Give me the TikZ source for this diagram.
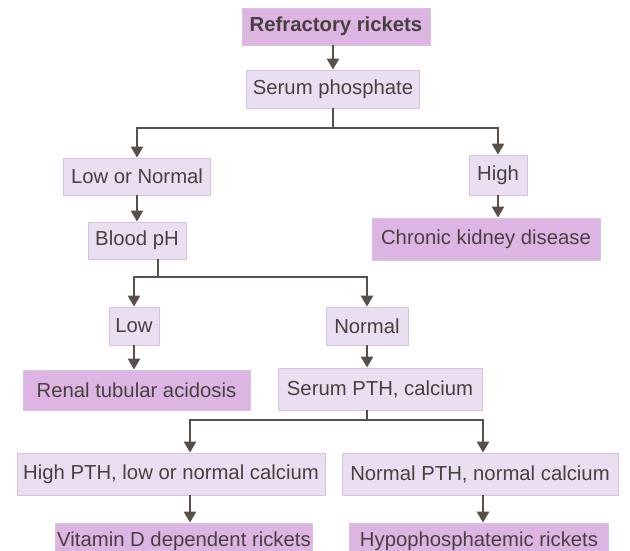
\documentclass[tikz,border=0pt]{standalone}
\usepackage{fontspec}
\setmainfont{Liberation Sans}
\usetikzlibrary{arrows.meta,calc}
\definecolor{term}{RGB}{221,181,226}
\definecolor{mid}{RGB}{233,223,241}
\definecolor{edgec}{RGB}{88,78,74}
\definecolor{txt}{RGB}{72,64,64}
\definecolor{bord}{RGB}{214,196,222}
\begin{document}
\begin{tikzpicture}[x=1pt,y=-1pt,
  box/.style={rectangle, inner sep=0pt, font=\fontsize{20.3}{24}\selectfont, text=txt, draw=bord, line width=0.8pt},
  termbox/.style={box, fill=term},
  midbox/.style={box, fill=mid},
  conn/.style={draw=edgec, line width=2.4pt},
  arr/.style={conn, -{Triangle[width=12pt,length=11pt]}}]
\useasboundingbox (0,0) rectangle (630,550);
\clip (0,0) rectangle (630,550);

\node[termbox, font=\bfseries\fontsize{20.3}{24}\selectfont, minimum width=188pt, minimum height=37pt] (ref) at (336,26.5) {Refractory rickets};
\node[midbox, minimum width=173pt, minimum height=38pt] (sp) at (333,89) {Serum phosphate};
\node[midbox, minimum width=147pt, minimum height=37pt] (lon) at (137,176.5) {Low or Normal};
\node[midbox, minimum width=58pt, minimum height=40pt] (high) at (498,175) {High};
\node[midbox, minimum width=98pt, minimum height=37pt] (bph) at (137,240.5) {Blood pH};
\node[termbox, minimum width=228pt, minimum height=42pt] (ckd) at (486,239) {Chronic kidney disease};
\node[midbox, minimum width=50pt, minimum height=38pt] (low) at (134,326) {Low};
\node[midbox, minimum width=82pt, minimum height=38pt] (nor) at (367,326) {Normal};
\node[termbox, minimum width=227pt, minimum height=40pt] (rta) at (136.5,390) {Renal tubular acidosis};
\node[midbox, minimum width=204pt, minimum height=42pt] (pth) at (380,389) {Serum PTH, calcium};
\node[midbox, minimum width=308pt, minimum height=42pt] (hpth) at (171,474) {High PTH, low or normal calcium};
\node[midbox, minimum width=276pt, minimum height=42pt] (npth) at (480,474) {Normal PTH, normal calcium};
\node[termbox, minimum width=257pt, minimum height=36pt] (vit) at (184,541) {Vitamin D dependent rickets};
\node[termbox, minimum width=259pt, minimum height=36pt] (hypo) at (479,541) {Hypophosphatemic rickets};

% junctions and arrow columns
\coordinate (j1) at (333,128);
\coordinate (j2) at (158,277);
\coordinate (j3) at (367,420);
\coordinate (cl) at (190,0);
\coordinate (cr) at (483,0);

\draw[arr] (ref.south -| sp.north) -- (sp.north);
\draw[conn] (sp.south) -- (j1);
\draw[arr] (j1) -| (lon.north);
\draw[arr] (j1) -| (high.north);
\draw[arr] (lon) -- (bph);
\draw[arr] (high.south) -- (high.south |- ckd.north);
\draw[conn] (bph.south -| j2) -- (j2);
\draw[arr] (j2) -| (low.north);
\draw[arr] (j2) -| (nor.north);
\draw[arr] (low) -- (low.south |- rta.north);
\draw[arr] (nor) -- (nor.south |- pth.north);
\draw[conn] (pth.south -| j3) -- (j3);
\draw[arr] (j3) -| (cl |- hpth.north);
\draw[arr] (j3) -| (cr |- npth.north);
\draw[arr] (cl |- hpth.south) -- (cl |- vit.north);
\draw[arr] (cr |- npth.south) -- (cr |- hypo.north);
\end{tikzpicture}
\end{document}
